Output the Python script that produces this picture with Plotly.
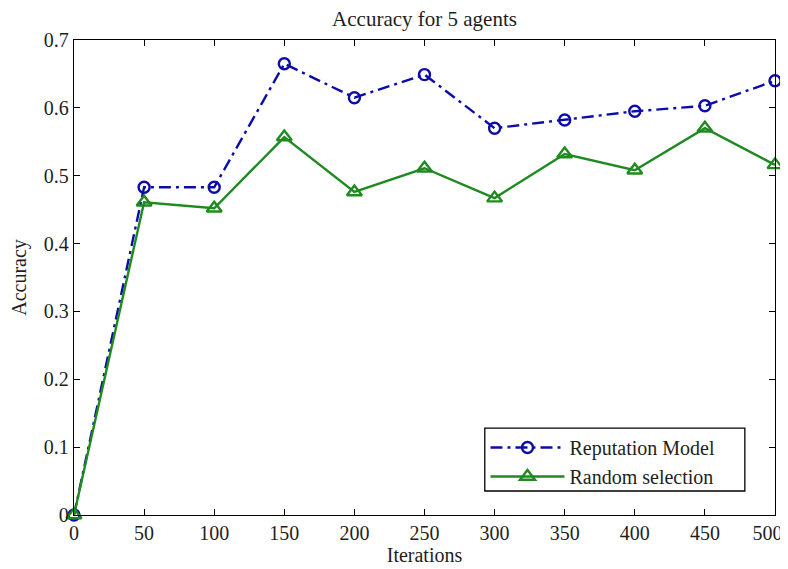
import plotly.graph_objects as go

iterations = [0, 50, 100, 150, 200, 250, 300, 350, 400, 450, 500]
reputation = [0.0, 0.483, 0.483, 0.665, 0.615, 0.649, 0.570, 0.582, 0.595, 0.603, 0.640]
random_sel = [0.0, 0.461, 0.452, 0.557, 0.476, 0.511, 0.467, 0.532, 0.508, 0.570, 0.516]
x_ticks = [0, 50, 100, 150, 200, 250, 300, 350, 400, 450, 500]
x_tick_text = ["0", "50", "100", "150", "200", "250", "300", "350", "400", "450", "500"]
y_ticks = [0, 0.1, 0.2, 0.3, 0.4, 0.5, 0.6, 0.7]
y_tick_text = ["0", "0.1", "0.2", "0.3", "0.4", "0.5", "0.6", "0.7"]

FONT = "Liberation Serif, Times New Roman, serif"
TXT = "#1e1e1e"

# the last x label sits at the right window edge; pad it so it stays readable
x_tick_labels = x_tick_text[:-1] + [x_tick_text[-1] + "&nbsp;&nbsp;&nbsp;"]

fig = go.Figure()
fig.add_trace(go.Scatter(
    x=iterations, y=reputation, name="Reputation Model", mode="lines+markers",
    line=dict(color="#0c0ca8", width=2.4, dash="12px,5px,3px,5px"),
    marker=dict(symbol="circle-open", size=11, color="#0c0ca8", line=dict(width=2.4)),
    cliponaxis=False,
))
fig.add_trace(go.Scatter(
    x=iterations, y=random_sel, name="Random selection", mode="lines+markers",
    line=dict(color="#1f8a1f", width=2.4),
    marker=dict(symbol="triangle-up-open", size=13, color="#1f8a1f", line=dict(width=2.4)),
    cliponaxis=False,
))

axis_common = dict(
    showgrid=False, zeroline=False, showline=True, linecolor="black", linewidth=1.3,
    mirror="ticks", ticks="inside", ticklen=6, tickcolor="black", tickwidth=1.3,
    tickfont=dict(family=FONT, size=20, color=TXT), automargin=False,
    ticklabeloverflow="allow",
)
fig.update_xaxes(range=[0, 500], tickvals=x_ticks, ticktext=x_tick_labels,
                 title=dict(text="Iterations", font=dict(family=FONT, size=20, color=TXT), standoff=3),
                 **axis_common)
fig.update_yaxes(range=[0, 0.7], tickvals=y_ticks, ticktext=y_tick_text,
                 title=dict(text="Accuracy", font=dict(family=FONT, size=20, color=TXT), standoff=11),
                 **axis_common)

# legend frame (MATLAB-style box, wider than plotly's auto box)
fig.add_shape(type="rect", xref="paper", yref="paper",
              x0=0.586, x1=0.957, y0=0.0505, y1=0.183,
              line=dict(color="black", width=1.3), fillcolor="white", layer="above")

fig.update_layout(
    width=780, height=561,
    margin=dict(l=66, r=13, t=32, b=54),
    paper_bgcolor="white", plot_bgcolor="white",
    title=dict(text="Accuracy for 5 agents", x=0.5, xref="paper", xanchor="center",
               y=0.994, yref="container", yanchor="top",
               font=dict(family=FONT, size=21, color=TXT)),
    legend=dict(x=0.587, y=0.04, xanchor="left", yanchor="bottom",
                borderwidth=0, bgcolor="rgba(0,0,0,0)",
                font=dict(family=FONT, size=20, color=TXT),
                itemwidth=74, tracegroupgap=0),
    showlegend=True,
)

fig.write_html("out.html")
